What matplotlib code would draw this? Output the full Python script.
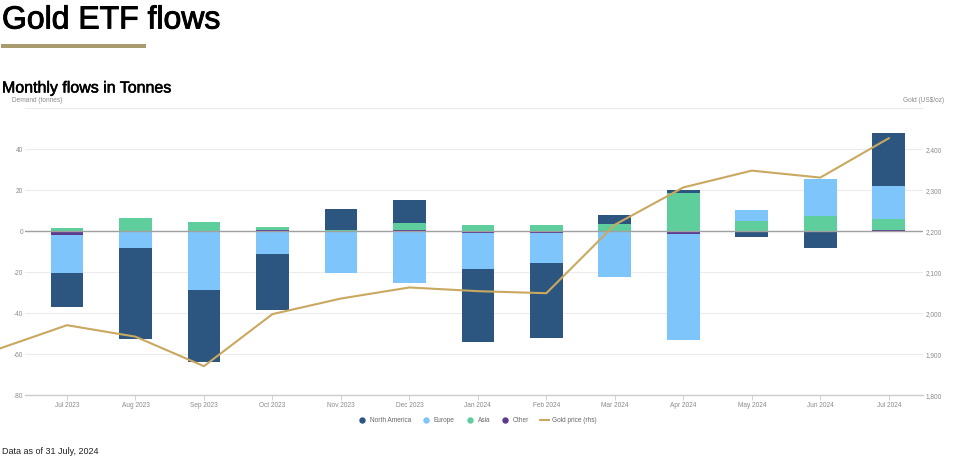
import matplotlib.pyplot as plt
import matplotlib.patheffects as pe
from matplotlib.lines import Line2D
import numpy as np

plt.rcParams['font.family'] = ['Liberation Sans', 'DejaVu Sans']

months = ['Jul 2023', 'Aug 2023', 'Sep 2023', 'Oct 2023', 'Nov 2023', 'Dec 2023', 'Jan 2024',
          'Feb 2024', 'Mar 2024', 'Apr 2024', 'May 2024', 'Jun 2024', 'Jul 2024']

# tonnes
north_america = [-16.3, -44.1, -35.1, -27.5, 10.3, 11.4, -35.7, -36.6, 4.7, 1.1, -2.6, -8.3, 25.7]
europe = [-18.6, -8.3, -28.3, -11.0, -20.3, -25.2, -17.7, -14.8, -22.1, -52.0, 5.5, 18.1, 16.3]
asia = [1.6, 6.5, 4.6, 1.4, 0.4, 3.2, 3.1, 2.9, 3.4, 18.9, 4.9, 7.5, 5.4]
other = [-1.9, 0.0, -0.2, 0.7, 0.0, 0.7, -0.7, -0.6, 0.0, -1.2, 0.0, 0.0, 0.6]

# gold price has one extra month in front (Jun 2023), it runs off the left edge
gold_x = [-1, 0, 1, 2, 3, 4, 5, 6, 7, 8, 9, 10, 11, 12]
gold_price = [1913, 1971, 1943, 1871, 1998, 2036, 2063, 2054, 2049, 2216, 2307, 2348, 2331, 2427]

demand_ticks = [-80, -60, -40, -20, 0, 20, 40, 60]
demand_labels = ['-80', '-60', '-40', '-20', '0', '20', '40', '']
gold_ticks = [1800, 1900, 2000, 2100, 2200, 2300, 2400]
gold_labels = ['1,800', '1,900', '2,000', '2,100', '2,200', '2,300', '2,400']

# stacked outwards from zero in this order
series = [('Other', other, '#5c3a8e'), ('Asia', asia, '#5ecf9c'),
          ('Europe', europe, '#7dc5fa'), ('North America', north_america, '#2c5580')]
legend_order = ['North America', 'Europe', 'Asia', 'Other']

W, H = 959, 459
GRID = '#ececec'
TEXT = '#8a8a8a'
GOLD = '#c9a85f'

fig = plt.figure(figsize=(W / 100, H / 100), dpi=100)
ax = fig.add_axes([25 / W, (H - 395.3) / H, 898 / W, 287 / H])

x = np.arange(len(months))
pos_base = np.zeros(len(months))
neg_base = np.zeros(len(months))
colors = {}
for name, values, color in series:
    values = np.array(values)
    base = np.where(values >= 0, pos_base, neg_base)
    ax.bar(x, values, 0.477, bottom=base, color=color, edgecolor='none', zorder=2)
    pos_base += np.clip(values, 0, None)
    neg_base += np.clip(values, None, 0)
    colors[name] = color

ax.axhline(0, color='#a0a0a0', lw=1, zorder=3)
ax.set_xlim(-0.613, 12.5)
ax.set_ylim(-80, 60)
ax.set_xticks(x, months)
ax.set_yticks(demand_ticks, demand_labels)
ax.grid(axis='y', color=GRID, lw=0.8, zorder=0)
ax.set_axisbelow(True)
ax.tick_params(axis='x', length=3.5, width=0.6, color='#cccccc', labelsize=4.7, labelcolor=TEXT, pad=1.5)
ax.tick_params(axis='y', length=0, labelsize=4.7, labelcolor=TEXT, pad=1.5)
for side in ['top', 'left', 'right']:
    ax.spines[side].set_visible(False)
ax.spines['bottom'].set_color('#cccccc')
ax.spines['bottom'].set_linewidth(1)

ax2 = ax.twinx()
ax2.plot(gold_x, gold_price, color=GOLD, lw=1.5, clip_on=False, zorder=4)
ax2.set_ylim(1800, 2500)
ax2.set_yticks(gold_ticks, gold_labels)
ax2.tick_params(axis='y', length=0, labelsize=4.7, labelcolor=TEXT, pad=2)
for side in ['top', 'left', 'right', 'bottom']:
    ax2.spines[side].set_visible(False)

# header and footer sit in pixel positions of the page
title = fig.text(2 / W, 1 - 20.5 / H, 'Gold ETF flows', fontsize=23, color='black', va='center', ha='left')
title.set_path_effects([pe.withStroke(linewidth=0.7, foreground='black')])
fig.add_artist(plt.Rectangle((1 / W, 1 - 48 / H), 145 / W, 4 / H, color='#a89b6d', lw=0,
                             transform=fig.transFigure))
subtitle = fig.text(2 / W, 1 - 88 / H, 'Monthly flows in Tonnes', fontsize=11.5, color='black', va='center', ha='left')
subtitle.set_path_effects([pe.withStroke(linewidth=0.4, foreground='black')])
fig.text(12 / W, 1 - 100.5 / H, 'Demand (tonnes)', fontsize=4.7, color=TEXT, va='center', ha='left')
fig.text(944 / W, 1 - 100.5 / H, 'Gold (US$/oz)', fontsize=4.7, color=TEXT, va='center', ha='right')
fig.text(2 / W, 1 - 451 / H, 'Data as of 31 July, 2024', fontsize=6.5, color='#222222', va='center', ha='left')

handles = [Line2D([], [], ls='none', marker='o', ms=4.6, mec='none', color=colors[n]) for n in legend_order]
handles.append(Line2D([], [], color=GOLD, lw=1.5))
labels = legend_order + ['Gold price (rhs)']
fig.legend(handles, labels, loc='center', bbox_to_anchor=(477 / W, 1 - 421 / H), ncol=5, frameon=False,
           fontsize=4.7, labelcolor='#666666', handlelength=1.4, handletextpad=0.5, columnspacing=1.6)

fig.savefig('out.png', dpi=100)
